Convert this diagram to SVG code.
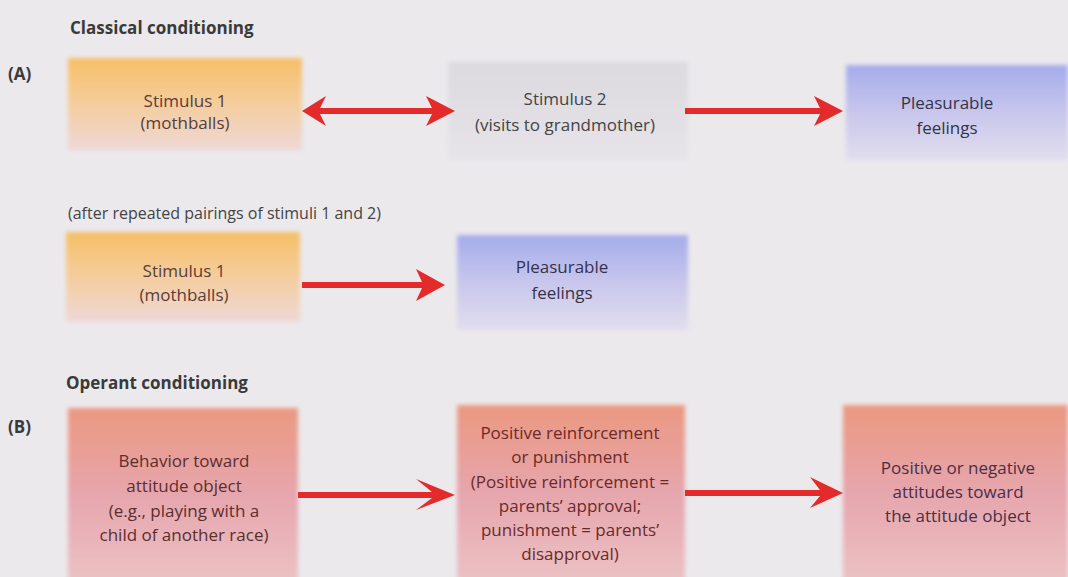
<svg xmlns="http://www.w3.org/2000/svg" width="1068" height="577" viewBox="0 0 1068 577">
<defs>
<style>
.t{font-family:"Open Sans","Liberation Sans",sans-serif;font-size:17px;text-anchor:middle}
.h{font-family:"Open Sans","Liberation Sans",sans-serif;font-size:17px;font-weight:bold;fill:#3a3a3a}
.lab{font-family:"Open Sans","Liberation Sans",sans-serif;font-size:17px;font-weight:bold;fill:#3a3a3a}
.sub{font-family:"Open Sans","Liberation Sans",sans-serif;font-size:16px;fill:#444}
.arr{fill:#e32b2b}
</style>
<linearGradient id="gOr" x1="0" y1="0" x2="0" y2="1">
<stop offset="0" stop-color="#f6bf66"/><stop offset="0.45" stop-color="#f5cc98"/><stop offset="1" stop-color="#efd8d6"/>
</linearGradient>
<linearGradient id="gGr" x1="0" y1="0" x2="0" y2="1">
<stop offset="0" stop-color="#dcdadf"/><stop offset="1" stop-color="#e6e4e8"/>
</linearGradient>
<linearGradient id="gBl" x1="0" y1="0" x2="0" y2="1">
<stop offset="0" stop-color="#a4aceb"/><stop offset="0.5" stop-color="#c8c6ec"/><stop offset="1" stop-color="#e2deee"/>
</linearGradient>
<linearGradient id="gPk" x1="0" y1="0" x2="0" y2="1">
<stop offset="0" stop-color="#eb9880"/><stop offset="0.5" stop-color="#e6a6ae"/><stop offset="1" stop-color="#ecc2c4"/>
</linearGradient>
<filter id="soft" x="-5%" y="-5%" width="110%" height="110%"><feGaussianBlur stdDeviation="2"/></filter>
</defs>
<rect width="1068" height="577" fill="#ebe9ec"/>

<text class="h" x="70" y="34">Classical conditioning</text>
<text class="lab" x="8" y="80">(A)</text>
<text class="sub" x="68" y="219">(after repeated pairings of stimuli 1 and 2)</text>
<text class="h" x="66" y="389">Operant conditioning</text>
<text class="lab" x="8" y="433">(B)</text>

<g id="a-stim1">
<rect x="68" y="58" width="234" height="92" fill="url(#gOr)" filter="url(#soft)"/>
<text class="t" fill="#5a3c3a" x="185" y="107">Stimulus 1</text>
<text class="t" fill="#5a3c3a" x="185" y="129">(mothballs)</text>
</g>
<g id="a-stim2">
<rect x="448" y="62" width="240" height="98" fill="url(#gGr)" filter="url(#soft)"/>
<text class="t" fill="#444" x="565" y="105">Stimulus 2</text>
<text class="t" fill="#444" x="565" y="131">(visits to grandmother)</text>
</g>
<g id="a-pleas">
<rect x="846" y="65" width="222" height="95" fill="url(#gBl)" filter="url(#soft)"/>
<text class="t" fill="#33334a" x="947" y="109">Pleasurable</text>
<text class="t" fill="#33334a" x="947" y="134">feelings</text>
</g>
<g id="a2-stim1">
<rect x="66" y="232" width="234" height="90" fill="url(#gOr)" filter="url(#soft)"/>
<text class="t" fill="#5a3c3a" x="184" y="277">Stimulus 1</text>
<text class="t" fill="#5a3c3a" x="184" y="301">(mothballs)</text>
</g>
<g id="a2-pleas">
<rect x="457" y="235" width="231" height="95" fill="url(#gBl)" filter="url(#soft)"/>
<text class="t" fill="#33334a" x="562" y="273">Pleasurable</text>
<text class="t" fill="#33334a" x="562" y="299">feelings</text>
</g>
<g id="b-behav">
<rect x="68" y="408" width="230" height="175" fill="url(#gPk)" filter="url(#soft)"/>
<text class="t" fill="#5a2e2e" x="184" y="467">Behavior toward</text>
<text class="t" fill="#5a2e2e" x="184" y="492">attitude object</text>
<text class="t" fill="#5a2e2e" x="184" y="517">(e.g., playing with a</text>
<text class="t" fill="#5a2e2e" x="184" y="541">child of another race)</text>
</g>
<g id="b-reinf">
<rect x="457" y="405" width="228" height="178" fill="url(#gPk)" filter="url(#soft)"/>
<text class="t" fill="#6a2a2a" x="570" y="439">Positive reinforcement</text>
<text class="t" fill="#6a2a2a" x="570" y="463">or punishment</text>
<text class="t" fill="#6a2a2a" x="570" y="488">(Positive reinforcement =</text>
<text class="t" fill="#6a2a2a" x="570" y="512">parents’ approval;</text>
<text class="t" fill="#6a2a2a" x="570" y="536">punishment = parents’</text>
<text class="t" fill="#6a2a2a" x="570" y="560">disapproval)</text>
</g>
<g id="b-att">
<rect x="843" y="405" width="225" height="178" fill="url(#gPk)" filter="url(#soft)"/>
<text class="t" fill="#4a2e48" x="958" y="474">Positive or negative</text>
<text class="t" fill="#4a2e48" x="958" y="498">attitudes toward</text>
<text class="t" fill="#4a2e48" x="958" y="522">the attitude object</text>
</g>

<g id="connectors">
<polygon class="arr" points="302,111 326,96 320,108 432,108 426,96 455,111 426,126 432,114 320,114 326,126"/>
<polygon class="arr" points="685,108 820,108 814,96 843,111 814,126 820,114 685,114"/>
<polygon class="arr" points="302,282 422,282 416,269 445,285 416,301 422,288 302,288"/>
<polygon class="arr" points="298,492 432,492 416,479 455,495 416,510 432,498 298,498"/>
<polygon class="arr" points="685,490 820,490 810,477 843,493 810,508 820,496 685,496"/>
</g>
</svg>
